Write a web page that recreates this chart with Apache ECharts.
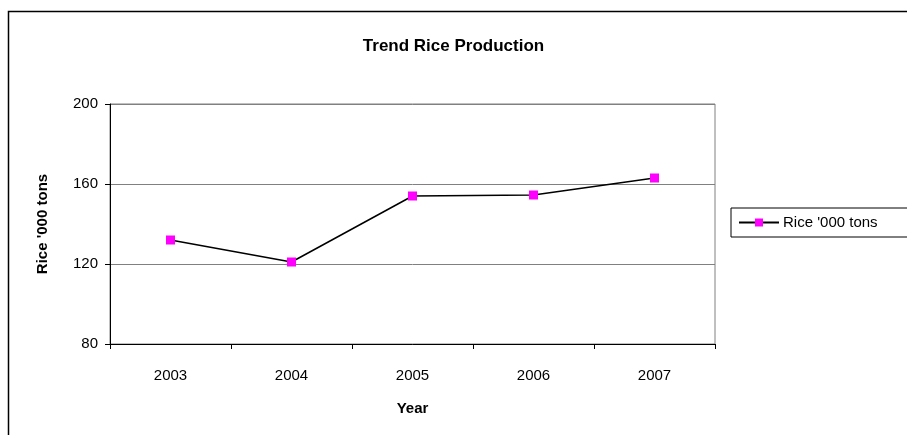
<!DOCTYPE html>
<html>
<head>
<meta charset="utf-8">
<script src="https://cdn.jsdelivr.net/npm/echarts@6/dist/echarts.min.js"></script>
<style>
  html, body { margin: 0; padding: 0; background: #fff; }
  #chart { width: 907px; height: 435px; }
</style>
</head>
<body>
<div id="chart"></div>
<script>
// 数据
var years = ['2003', '2004', '2005', '2006', '2007'];
var rice = [132, 121, 154, 154.5, 163];
var seriesName = "Rice '000 tons";

var chart = echarts.init(document.getElementById('chart'));

var font = 'Arial, "Liberation Sans", sans-serif';

var option = {
    animation: false,
    backgroundColor: '#fff',
    title: {
        text: 'Trend Rice Production',
        left: 'center',
        top: 33,
        textStyle: { fontFamily: font, fontSize: 17, fontWeight: 'bold', color: '#000' }
    },
    // 图例
    legend: {
        data: [seriesName],
        left: 731,
        top: 208,
        orient: 'vertical',
        padding: [7, 60, 7, 7],
        itemWidth: 40,
        itemHeight: 10,
        itemGap: 0,
        borderColor: '#000',
        borderWidth: 1,
        textStyle: { fontFamily: font, fontSize: 15, color: '#000', padding: [0, 0, 0, -1] }
    },
    grid: {
        left: 110,
        right: 192,
        top: 104,
        bottom: 91,
        show: true,
        borderColor: '#808080',
        borderWidth: 1
    },
    xAxis: {
        type: 'category',
        data: years,
        boundaryGap: true,
        name: 'Year',
        nameLocation: 'middle',
        nameGap: 57,
        nameTextStyle: { fontFamily: font, fontSize: 15, fontWeight: 'bold', color: '#000' },
        axisLine: { lineStyle: { color: '#000', width: 1 } },
        axisTick: { show: true, length: 5, lineStyle: { color: '#000' } },
        axisLabel: { fontFamily: font, fontSize: 15, color: '#000', margin: 24 },
        splitLine: { show: false }
    },
    yAxis: {
        type: 'value',
        min: 80,
        max: 200,
        interval: 40,
        name: seriesName,
        nameLocation: 'middle',
        nameGap: 60,
        nameTextStyle: { fontFamily: font, fontSize: 15, fontWeight: 'bold', color: '#000' },
        axisLine: { show: true, lineStyle: { color: '#000', width: 1 } },
        axisTick: { show: true, length: 5, lineStyle: { color: '#000' } },
        axisLabel: { fontFamily: font, fontSize: 15, color: '#000', margin: 12 },
        splitLine: { show: true, lineStyle: { color: '#808080', width: 1 } }
    },
    series: [{
        name: seriesName,
        type: 'line',
        data: rice,
        symbol: 'rect',
        symbolSize: 9,
        itemStyle: { color: '#ff00ff' },
        lineStyle: { color: '#000', width: 1.5 }
    }],
    // 外框
    graphic: [{
        type: 'rect',
        shape: { x: 8.5, y: 11.5, width: 1000, height: 1000 },
        style: { fill: 'none', stroke: '#000', lineWidth: 1.5 },
        silent: true
    }]
};

chart.setOption(option);
</script>
</body>
</html>
